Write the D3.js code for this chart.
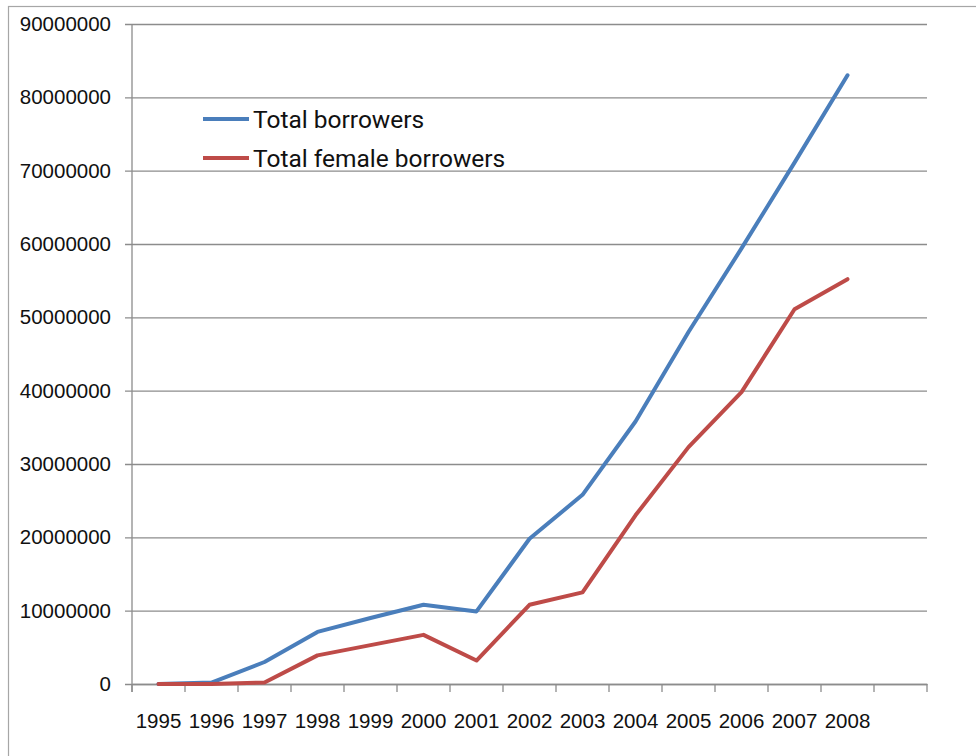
<!DOCTYPE html>
<html>
<head>
<meta charset="utf-8">
<script src="https://cdn.jsdelivr.net/npm/d3@7"></script>
<style>
  body { margin: 0; background: #fff; }
  svg { display: block; font-family: Roboto, "Liberation Sans", sans-serif; }
</style>
</head>
<body>
<svg id="chart"></svg>
<script>
// categories (the last slot on the axis is empty in the original)
const years = ["1995", "1996", "1997", "1998", "1999", "2000", "2001",
               "2002", "2003", "2004", "2005", "2006", "2007", "2008"];
const slots = years.concat([""]);

const totalBorrowers = [0, 200000, 3000000, 7100000, 9000000, 10800000, 9900000,
                        19800000, 25800000, 35800000, 48000000, 59400000, 71100000, 83000000];
const femaleBorrowers = [0, 0, 200000, 3900000, 5300000, 6700000, 3200000,
                         10800000, 12500000, 23000000, 32300000, 39800000, 51100000, 55200000];

const seriesNames = ["Total borrowers", "Total female borrowers"];
const yTicks = [0, 10000000, 20000000, 30000000, 40000000, 50000000,
                60000000, 70000000, 80000000, 90000000];

const width = 976, height = 756;
const margin = { top: 24, right: 49, bottom: 72, left: 132 };
const colors = ["#4a7ebb", "#be4b48"];

const svg = d3.select("#chart")
  .attr("width", width)
  .attr("height", height);

// outer chart frame
svg.append("rect")
  .attr("x", 8.5)
  .attr("y", 6.5)
  .attr("width", width + 20)
  .attr("height", height + 20)
  .attr("fill", "none")
  .attr("stroke", "#a6a6a6")
  .attr("stroke-width", 1.2);

const xScale = d3.scaleBand()
  .domain(slots)
  .range([margin.left, width - margin.right]);

const yScale = d3.scaleLinear()
  .domain([0, 90000000])
  .range([height - margin.bottom, margin.top]);

// gridlines + y labels
const yAxis = d3.axisLeft(yScale)
  .tickValues(yTicks)
  .tickFormat(d3.format("d"))
  .tickSizeInner(-(width - margin.right - margin.left))
  .tickSizeOuter(0)
  .tickPadding(21);

const gy = svg.append("g")
  .attr("transform", `translate(${margin.left},0)`)
  .call(yAxis);

gy.select(".domain").remove();
gy.selectAll(".tick line")
  .attr("x1", -7)
  .attr("stroke", "#8c8c8c")
  .attr("stroke-width", 1.3);
gy.selectAll(".tick text")
  .attr("font-size", 20.5)
  .attr("fill", "#111");

// y axis line
svg.append("line")
  .attr("x1", margin.left)
  .attr("x2", margin.left)
  .attr("y1", yScale(90000000))
  .attr("y2", yScale(0) + 8)
  .attr("stroke", "#8c8c8c")
  .attr("stroke-width", 1.3);

// x axis: ticks between categories, labels centered in band
const xAxis = d3.axisBottom(xScale)
  .tickSize(0)
  .tickPadding(29);

const gx = svg.append("g")
  .attr("transform", `translate(0,${yScale(0)})`)
  .call(xAxis);

gx.select(".domain")
  .attr("stroke", "#8c8c8c")
  .attr("stroke-width", 1.3);
gx.selectAll(".tick text")
  .attr("font-size", 20.5)
  .attr("fill", "#111");

const boundaries = slots.map(d => xScale(d)).concat([xScale.range()[1]]);
gx.selectAll(".sep")
  .data(boundaries)
  .join("line")
  .attr("class", "sep")
  .attr("x1", d => d)
  .attr("x2", d => d)
  .attr("y1", 0)
  .attr("y2", 8)
  .attr("stroke", "#8c8c8c")
  .attr("stroke-width", 1.3);

// lines
const line = d3.line()
  .x((d, i) => xScale(years[i]) + xScale.bandwidth() / 2)
  .y(d => yScale(d));

svg.selectAll(".series")
  .data([totalBorrowers, femaleBorrowers])
  .join("path")
  .attr("class", "series")
  .attr("d", line)
  .attr("fill", "none")
  .attr("stroke", (d, i) => colors[i])
  .attr("stroke-width", 4)
  .attr("stroke-linejoin", "round")
  .attr("stroke-linecap", "round");

// legend
const legend = svg.append("g")
  .attr("transform", "translate(203,119)");

const items = legend.selectAll("g")
  .data(seriesNames)
  .join("g")
  .attr("transform", (d, i) => `translate(0,${i * 39})`);

items.append("line")
  .attr("x1", 0)
  .attr("x2", 46)
  .attr("stroke", (d, i) => colors[i])
  .attr("stroke-width", 4);

items.append("text")
  .attr("x", 50)
  .attr("dy", "0.36em")
  .attr("font-size", 24.5)
  .attr("fill", "#111")
  .text(d => d);
</script>
</body>
</html>
